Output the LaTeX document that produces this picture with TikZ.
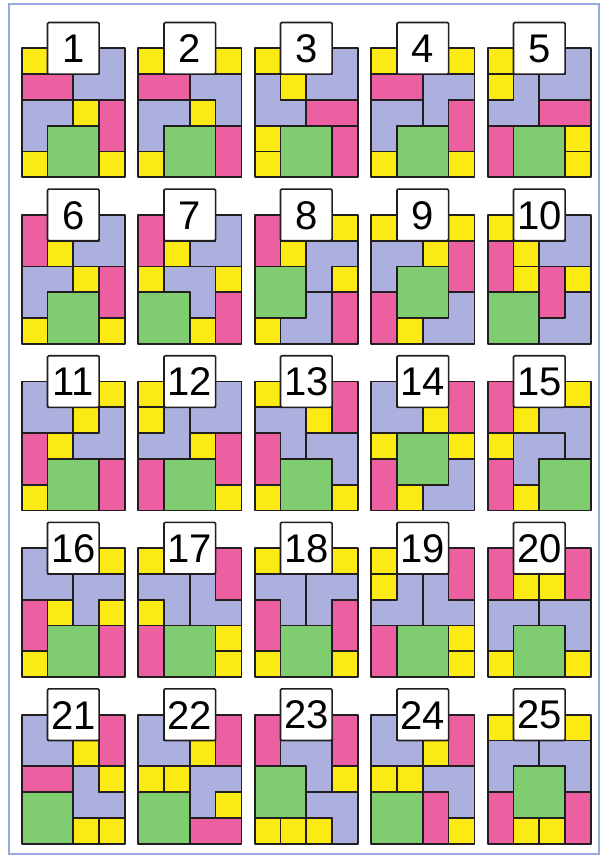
\documentclass[tikz,border=0pt]{standalone}
\usepackage{fontspec}
\newfontfamily\numfont{Liberation Sans}
\definecolor{kyel}{RGB}{252,234,20}
\definecolor{kpink}{RGB}{236,96,162}
\definecolor{klav}{RGB}{172,176,222}
\definecolor{kgreen}{RGB}{128,204,112}
\definecolor{kline}{RGB}{34,30,32}
\definecolor{kframe}{RGB}{150,168,222}
\tikzset{
  piece/.style={draw=kline, line width=1.7pt, line join=round},
  ys/.style={piece, fill=kyel},
  ps/.style={piece, fill=kpink},
  ls/.style={piece, fill=klav},
  gs/.style={piece, fill=kgreen},
  boxs/.style={draw=kline, fill=white, line width=1.6pt, rounded corners=1.2pt},
  numtxt/.style={font=\numfont\fontsize{40}{40}\selectfont, inner sep=0pt, text=black, yshift=-0.5pt}
}
\newcommand\kY[2]{\draw[ys] (#2,#1) rectangle ++(1,1);}
\newcommand\kH[2]{\draw[ps] (#2,#1) rectangle ++(2,1);}
\newcommand\kV[2]{\draw[ps] (#2,#1) rectangle ++(1,2);}
\newcommand\kG[2]{\draw[gs] (#2,#1) rectangle ++(2,2);}
% L pieces: 2x2 box with top-left (row #1, col #2), one corner missing
\newcommand\kLtl[2]{\draw[ls] (#2+1,#1) -- (#2+2,#1) -- (#2+2,#1+2) -- (#2,#1+2) -- (#2,#1+1) -- (#2+1,#1+1) -- cycle;}
\newcommand\kLtr[2]{\draw[ls] (#2,#1) -- (#2+1,#1) -- (#2+1,#1+1) -- (#2+2,#1+1) -- (#2+2,#1+2) -- (#2,#1+2) -- cycle;}
\newcommand\kLbl[2]{\draw[ls] (#2,#1) -- (#2+2,#1) -- (#2+2,#1+2) -- (#2+1,#1+2) -- (#2+1,#1+1) -- (#2,#1+1) -- cycle;}
\newcommand\kLbr[2]{\draw[ls] (#2,#1) -- (#2+2,#1) -- (#2+2,#1+1) -- (#2+1,#1+1) -- (#2+1,#1+2) -- (#2,#1+2) -- cycle;}
\newcommand\kpanel[4]{%
  \begin{scope}[shift={({21.7+116.5*#1},{48.3+166.6*#2})},x=25.8pt,y=-25.8pt]
    #4
    \draw[boxs] (1,-1) rectangle (3,1);
    \node[numtxt] (n#3) at (2,0) {#3};
  \end{scope}}
\begin{document}
\begin{tikzpicture}[x=1pt,y=-1pt]
\useasboundingbox (0,0) rectangle (603,857);
\fill[white] (0,0) rectangle (603,857);
\draw[kframe, line width=1.6pt] (9,4) rectangle (599,854);
% row 1
\kpanel{0}{0}{1}{\kY00 \kLtl02 \kH10 \kLbr20 \kY22 \kV23 \kG31 \kY40 \kY43}
\kpanel{1}{0}{2}{\kY00 \kY03 \kH10 \kLbl12 \kLbr20 \kY22 \kG31 \kV33 \kY40}
\kpanel{2}{0}{3}{\kY00 \kLtl02 \kLtr10 \kY11 \kH22 \kY30 \kY40 \kG31 \kV33}
\kpanel{3}{0}{4}{\kY00 \kY03 \kH10 \kLbr12 \kLbr20 \kV23 \kG31 \kY40 \kY43}
\kpanel{4}{0}{5}{\kY00 \kY10 \kLtl02 \kLtl10 \kH22 \kV30 \kG31 \kY33 \kY43}
% row 2
\kpanel{0}{1}{6}{\kV00 \kY11 \kLtl02 \kLbr20 \kY22 \kV23 \kG31 \kY40 \kY43}
\kpanel{1}{1}{7}{\kV00 \kY11 \kLtl02 \kY20 \kLbl21 \kY23 \kG30 \kV33 \kY42}
\kpanel{2}{1}{8}{\kV00 \kY03 \kY11 \kLbr12 \kG20 \kY23 \kLtl31 \kV33 \kY40}
\kpanel{3}{1}{9}{\kY00 \kY03 \kLbr10 \kY12 \kV13 \kG21 \kV30 \kLtl32 \kY41}
\kpanel{4}{1}{10}{\kY00 \kLtl02 \kV10 \kY11 \kY21 \kV22 \kY23 \kG30 \kLtl32}
% row 3
\kpanel{0}{2}{11}{\kLtr00 \kY03 \kY12 \kLtl12 \kV20 \kY21 \kG31 \kV33 \kY40}
\kpanel{1}{2}{12}{\kY00 \kY10 \kLtl02 \kLtl10 \kY22 \kV23 \kV30 \kG31 \kY43}
\kpanel{2}{2}{13}{\kY00 \kV03 \kLbl10 \kY12 \kV20 \kLbl22 \kG31 \kY40 \kY43}
\kpanel{3}{2}{14}{\kLtr00 \kV03 \kY12 \kY20 \kG21 \kY23 \kV30 \kLtl32 \kY41}
\kpanel{4}{2}{15}{\kV00 \kY03 \kY11 \kLbl12 \kY20 \kLbr21 \kV30 \kG32 \kY41}
% row 4
\kpanel{0}{3}{16}{\kLtr00 \kY03 \kLbr12 \kV20 \kY21 \kY23 \kG31 \kV33 \kY40}
\kpanel{1}{3}{17}{\kY00 \kV03 \kLbl10 \kLtr12 \kY20 \kV30 \kG31 \kY33 \kY43}
\kpanel{2}{3}{18}{\kY00 \kY03 \kLbl10 \kLbr12 \kV20 \kV23 \kG31 \kY40 \kY43}
\kpanel{3}{3}{19}{\kY00 \kY10 \kV03 \kLtl10 \kLtr12 \kV30 \kG31 \kY33 \kY43}
\kpanel{4}{3}{20}{\kV00 \kV03 \kY11 \kY12 \kLbr20 \kLbl22 \kG31 \kY40 \kY43}
% row 5
\kpanel{0}{4}{21}{\kLtr00 \kV03 \kY12 \kH20 \kLtr22 \kY23 \kG30 \kY42 \kY43}
\kpanel{1}{4}{22}{\kLtr00 \kV03 \kY12 \kY20 \kY21 \kLbr22 \kY33 \kG30 \kH42}
\kpanel{2}{4}{23}{\kV00 \kV03 \kLbl11 \kG20 \kY23 \kLbl32 \kY40 \kY41 \kY42}
\kpanel{3}{4}{24}{\kLtr00 \kV03 \kY12 \kY20 \kY21 \kLbl22 \kG30 \kV32 \kY43}
\kpanel{4}{4}{25}{\kY00 \kY03 \kLbr10 \kLbl12 \kG21 \kV30 \kV33 \kY41 \kY42}
\end{tikzpicture}
\end{document}
